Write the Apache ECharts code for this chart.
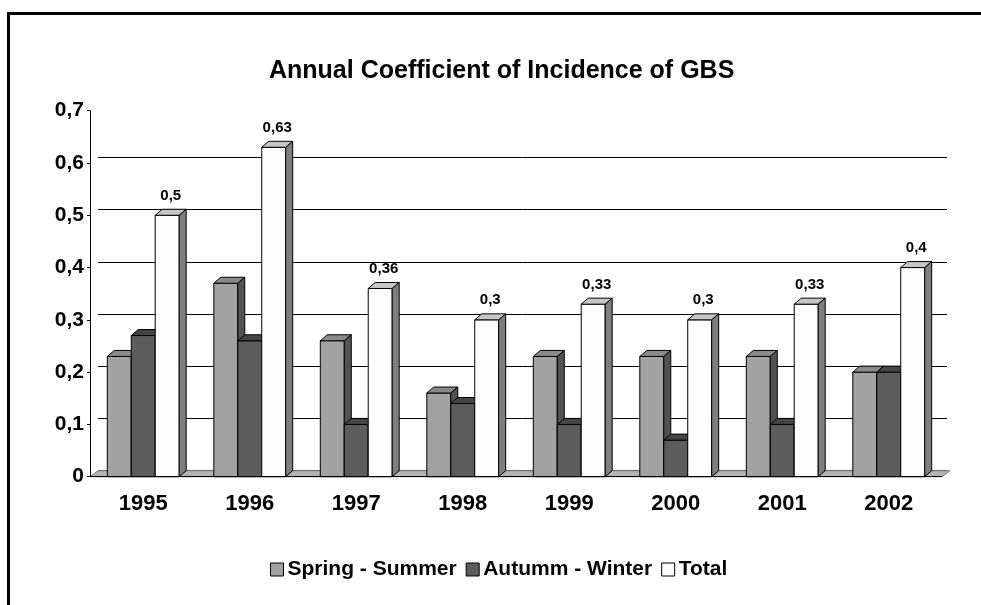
<!DOCTYPE html>
<html>
<head>
<meta charset="utf-8">
<script src="https://cdn.jsdelivr.net/npm/echarts@6/dist/echarts.min.js"></script>
<style>
  html, body { margin: 0; padding: 0; background: #fff; }
  #chart { width: 981px; height: 605px; }
</style>
</head>
<body>
<div id="chart"></div>
<script>
var years = ['1995', '1996', '1997', '1998', '1999', '2000', '2001', '2002']
var springSummer = [0.23, 0.37, 0.26, 0.16, 0.23, 0.23, 0.23, 0.20]
var autumnWinter = [0.27, 0.26, 0.10, 0.14, 0.10, 0.07, 0.10, 0.20]
var total = [0.5, 0.63, 0.36, 0.3, 0.33, 0.3, 0.33, 0.4]

var FONT = '"Liberation Sans", Arial, sans-serif'
// depth of the fake 3d look
var BAR_DX = 7, BAR_DY = 6
var WALL_DX = 8, WALL_DY = 6

function comma(v) {
  return String(v).replace('.', ',')
}

// one 3d bar: front, top, side
function makeBar(slot, colors, withLabel) {
  return function (params, api) {
    var cat = api.value(0)
    var val = api.value(1)
    var w = api.size([1, 0])[0] * 0.225
    var base = api.coord([cat, 0])
    var top = api.coord([cat, val])
    var x0 = base[0] + slot * w - w / 2
    var x1 = x0 + w
    var y0 = base[1]
    var y1 = top[1]
    var line = { stroke: '#000', lineWidth: 1 }
    var children = [
      {
        type: 'rect',
        shape: { x: x0, y: y1, width: w, height: y0 - y1 },
        style: Object.assign({ fill: colors[0] }, line)
      },
      {
        type: 'polygon',
        shape: { points: [[x0, y1], [x1, y1], [x1 + BAR_DX, y1 - BAR_DY], [x0 + BAR_DX, y1 - BAR_DY]] },
        style: Object.assign({ fill: colors[1] }, line)
      },
      {
        type: 'polygon',
        shape: { points: [[x1, y1], [x1 + BAR_DX, y1 - BAR_DY], [x1 + BAR_DX, y0 - BAR_DY], [x1, y0]] },
        style: Object.assign({ fill: colors[2] }, line)
      }
    ]
    if (withLabel) {
      children.push({
        type: 'text',
        style: {
          text: comma(val),
          x: x0 + w / 2 + BAR_DX / 2,
          y: y1 - BAR_DY - 6,
          textAlign: 'center',
          textVerticalAlign: 'bottom',
          fill: '#000',
          font: 'bold 15px ' + FONT
        }
      })
    }
    return { type: 'group', children: children }
  }
}

function floorItem(params, api) {
  var cs = params.coordSys
  var yb = cs.y + cs.height
  return {
    type: 'polygon',
    shape: {
      points: [[cs.x, yb], [cs.x + cs.width, yb], [cs.x + cs.width + WALL_DX, yb - WALL_DY], [cs.x + WALL_DX, yb - WALL_DY]]
    },
    style: { fill: '#b4b4b4', stroke: '#7a7a7a', lineWidth: 1 }
  }
}

function seriesData(arr) {
  return arr.map(function (v, i) { return [i, v] })
}

var chart = echarts.init(document.getElementById('chart'))

chart.setOption({
  backgroundColor: '#fff',
  animation: false,
  title: {
    text: 'Annual Coefficient of Incidence of GBS',
    left: 264,
    top: 54,
    textStyle: { fontFamily: FONT, fontWeight: 'bold', fontSize: 25, color: '#000' }
  },
  legend: {
    left: 265,
    top: 554,
    itemWidth: 13,
    itemHeight: 13,
    itemGap: 9,
    icon: 'rect',
    itemStyle: { borderColor: '#000', borderWidth: 1 },
    textStyle: { fontFamily: FONT, fontWeight: 'bold', fontSize: 21, color: '#000', padding: [0, 0, 0, -1] },
    data: ['Spring - Summer', 'Autumm - Winter', 'Total']
  },
  graphic: [{
    type: 'rect',
    shape: { x: 8.5, y: 13.5, width: 1000, height: 700 },
    style: { fill: 'none', stroke: '#000', lineWidth: 3 },
    silent: true
  }],
  grid: [
    { left: 90, right: 39, top: 110.7, bottom: 128.3 },
    { left: 90 + WALL_DX, right: 34, top: 163.3 - WALL_DY, bottom: 128.3 + WALL_DY }
  ],
  xAxis: [
    {
      type: 'category',
      gridIndex: 0,
      data: years,
      z: 10,
      axisLine: { lineStyle: { color: '#000', width: 1 } },
      axisTick: { length: 5, lineStyle: { color: '#000' } },
      axisLabel: { margin: 16, color: '#000', fontFamily: FONT, fontWeight: 'bold', fontSize: 22 }
    },
    {
      type: 'category',
      gridIndex: 1,
      data: years,
      show: false
    }
  ],
  yAxis: [
    {
      type: 'value',
      gridIndex: 0,
      min: 0,
      max: 0.7,
      interval: 0.1,
      z: 10,
      axisLine: { show: true, lineStyle: { color: '#000', width: 1 } },
      axisTick: { show: true, length: 3, lineStyle: { color: '#000' } },
      splitLine: { show: false },
      axisLabel: {
        margin: 6,
        color: '#000',
        fontFamily: FONT,
        fontWeight: 'bold',
        fontSize: 21,
        formatter: function (v) { return comma(Math.round(v * 10) / 10) }
      }
    },
    {
      // back wall gridlines 0..0.6
      type: 'value',
      gridIndex: 1,
      min: 0,
      max: 0.6,
      interval: 0.1,
      axisLine: { show: false },
      axisTick: { show: false },
      axisLabel: { show: false },
      splitLine: { show: true, lineStyle: { color: '#000', width: 1 } }
    }
  ],
  series: [
    {
      name: 'floor',
      type: 'custom',
      xAxisIndex: 0,
      yAxisIndex: 0,
      z: 1,
      silent: true,
      renderItem: floorItem,
      data: [[0, 0]]
    },
    {
      name: 'Spring - Summer',
      type: 'custom',
      xAxisIndex: 0,
      yAxisIndex: 0,
      itemStyle: { color: '#a2a2a2' },
      renderItem: makeBar(-1, ['#a2a2a2', '#8a8a8a', '#525252'], false),
      data: seriesData(springSummer)
    },
    {
      name: 'Autumm - Winter',
      type: 'custom',
      xAxisIndex: 0,
      yAxisIndex: 0,
      itemStyle: { color: '#5c5c5c' },
      renderItem: makeBar(0, ['#5c5c5c', '#454545', '#3a3a3a'], false),
      data: seriesData(autumnWinter)
    },
    {
      name: 'Total',
      type: 'custom',
      xAxisIndex: 0,
      yAxisIndex: 0,
      itemStyle: { color: '#ffffff' },
      renderItem: makeBar(1, ['#fdfdfd', '#c6c6c6', '#7e7e7e'], true),
      data: seriesData(total)
    }
  ]
})
</script>
</body>
</html>
